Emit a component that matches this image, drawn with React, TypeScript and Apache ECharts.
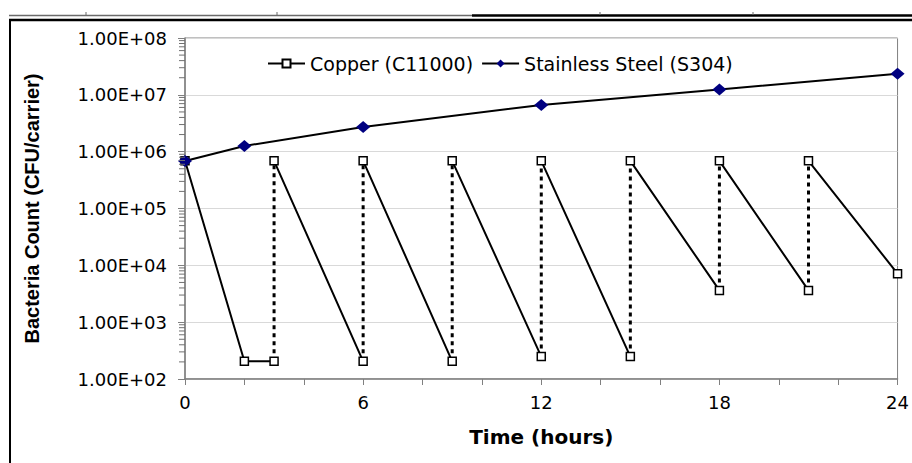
import React, { useEffect, useRef } from 'react';
import * as echarts from 'echarts';

// ---- data ----
const steelTimes = [0, 2, 6, 12, 18, 24];
const steelCounts = [6.86e5, 1.26e6, 2.72e6, 6.65e6, 1.24e7, 2.34e7];

const copperTimes = [0, 2, 3, 3, 6, 6, 9, 9, 12, 12, 15, 15, 18, 18, 21, 21, 24];
const copperCounts = [6.9e5, 205, 205, 6.9e5, 205, 6.9e5, 205, 6.9e5, 248, 6.9e5, 248, 6.9e5, 3620, 6.9e5, 3620, 6.9e5, 7130];

const xTickLabels = ['0', '6', '12', '18', '24'];
const yTickExponents = [2, 3, 4, 5, 6, 7, 8];
const minorMultipliers = [2, 3, 4, 5, 6, 7, 8, 9];

const seriesNames = ['Copper (C11000)', 'Stainless Steel (S304)'];

const FONT = 'DejaVu Sans';

export default function App() {
  const ref = useRef<HTMLDivElement>(null);

  useEffect(() => {
    if (!ref.current) return;
    const chart = echarts.init(ref.current, null, { renderer: 'svg' });

    const steelData = steelTimes.map((t, i) => [t, steelCounts[i]]);

    const solid: any[] = [];
    const dotted: any[] = [];
    copperTimes.forEach((t, i) => {
      if (i > 0 && t === copperTimes[i - 1]) {
        solid.push([t, '-']);
        dotted.push([t, copperCounts[i - 1]], [t, copperCounts[i]], [t, '-']);
      }
      solid.push([t, copperCounts[i]]);
    });

    const minorTicks: number[][] = [];
    yTickExponents.slice(0, -1).forEach((e) => {
      minorMultipliers.forEach((m) => minorTicks.push([0, m * Math.pow(10, e)]));
    });

    chart.setOption({
      animation: false,
      backgroundColor: '#ffffff',
      grid: {
        left: 185,
        right: 8,
        top: 38,
        bottom: 84,
        show: true,
        borderColor: '#808080',
        borderWidth: 1,
        backgroundColor: 'transparent',
      },
      legend: {
        data: seriesNames,
        left: 262,
        top: 49,
        itemWidth: 37,
        itemHeight: 10,
        itemGap: 8,
        textStyle: { fontFamily: FONT, fontSize: 19, color: '#000' },
      },
      xAxis: {
        type: 'value',
        min: 0,
        max: 24,
        interval: 2,
        name: 'Time (hours)',
        nameLocation: 'middle',
        nameGap: 48,
        nameTextStyle: { fontFamily: FONT, fontSize: 20, fontWeight: 'bold', color: '#000' },
        axisLine: { show: true, lineStyle: { color: '#808080', width: 1.5 } },
        axisTick: { show: true, length: 6, lineStyle: { color: '#808080' } },
        axisLabel: {
          fontFamily: FONT,
          fontSize: 18,
          color: '#000',
          margin: 14,
          formatter: (v: number) => (xTickLabels.includes(String(v)) ? String(v) : ''),
        },
        splitLine: { show: false },
      },
      yAxis: {
        type: 'log',
        logBase: 10,
        min: Math.pow(10, yTickExponents[0]),
        max: Math.pow(10, yTickExponents[yTickExponents.length - 1]),
        name: 'Bacteria Count (CFU/carrier)',
        nameLocation: 'middle',
        nameGap: 143,
        nameTextStyle: { fontFamily: 'Liberation Sans', fontSize: 20, fontWeight: 'bold', color: '#000' },
        axisLine: { show: true, lineStyle: { color: '#808080', width: 1.5 } },
        axisTick: { show: true, length: 7, lineStyle: { color: '#808080' } },
        axisLabel: {
          fontFamily: FONT,
          fontSize: 18,
          color: '#000',
          margin: 18,
          formatter: (v: number) => {
            const e = Math.round(Math.log10(v));
            return '1.00E+' + String(e).padStart(2, '0');
          },
        },
        splitLine: { show: true, lineStyle: { color: '#d9d9d9', width: 1 } },
      },
      series: [
        {
          name: 'minor ticks',
          type: 'custom',
          coordinateSystem: 'cartesian2d',
          silent: true,
          clip: false,
          z: 10,
          data: minorTicks,
          renderItem: (params: any, api: any) => {
            const p = api.coord([0, api.value(1)]);
            return {
              type: 'line',
              shape: { x1: p[0] - 6, y1: p[1], x2: p[0], y2: p[1] },
              style: { stroke: '#707070', lineWidth: 1 },
            };
          },
        },
        {
          name: 'Copper re-inoculation',
          type: 'line',
          data: dotted,
          showSymbol: false,
          symbol: 'none',
          connectNulls: false,
          silent: true,
          lineStyle: { color: '#000', width: 3, type: [4, 4], cap: 'butt' },
          z: 2,
        },
        {
          name: seriesNames[0],
          type: 'line',
          data: solid,
          connectNulls: false,
          symbol: 'rect',
          symbolSize: 8,
          itemStyle: { color: '#fff', borderColor: '#000', borderWidth: 1.5 },
          lineStyle: { color: '#000', width: 2 },
          z: 3,
        },
        {
          name: seriesNames[1],
          type: 'line',
          data: steelData,
          symbol: 'diamond',
          symbolSize: [14, 12],
          itemStyle: { color: '#000080', borderColor: '#000080', borderWidth: 0 },
          lineStyle: { color: '#000', width: 2 },
          z: 4,
        },
      ],
      graphic: [
        { type: 'line', shape: { x1: 9, y1: 15.5, x2: 472, y2: 15.5 }, style: { stroke: '#6a6a6a', lineWidth: 1.5 } },
        { type: 'line', shape: { x1: 472, y1: 15.5, x2: 912, y2: 15.5 }, style: { stroke: '#000', lineWidth: 2.5 } },
        { type: 'line', shape: { x1: 86, y1: 12, x2: 86, y2: 15 }, style: { stroke: '#6a6a6a', lineWidth: 1 } },
        { type: 'line', shape: { x1: 277, y1: 12, x2: 277, y2: 15 }, style: { stroke: '#6a6a6a', lineWidth: 1 } },
        { type: 'line', shape: { x1: 600, y1: 12, x2: 600, y2: 15 }, style: { stroke: '#6a6a6a', lineWidth: 1 } },
        { type: 'line', shape: { x1: 753, y1: 12, x2: 753, y2: 15 }, style: { stroke: '#6a6a6a', lineWidth: 1 } },
        { type: 'line', shape: { x1: 9, y1: 20, x2: 912, y2: 20 }, style: { stroke: '#000', lineWidth: 2.5 } },
        { type: 'line', shape: { x1: 10, y1: 19, x2: 10, y2: 463 }, style: { stroke: '#000', lineWidth: 2 } },
      ],
    });

    return () => chart.dispose();
  }, []);

  return (
    <div
      ref={ref}
      style={{ position: 'absolute', left: 0, top: 0, width: 912, height: 463, background: '#fff' }}
    />
  );
}
